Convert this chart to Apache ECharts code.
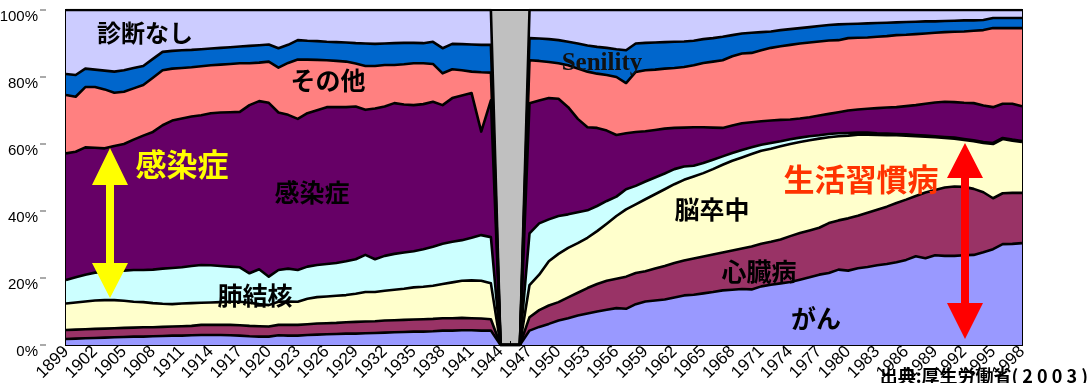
<!DOCTYPE html>
<html>
<head>
<meta charset="utf-8">
<script src="https://cdn.jsdelivr.net/npm/echarts@6/dist/echarts.min.js"></script>
<style>
  html, body { margin: 0; padding: 0; background: #ffffff; }
  #chart { width: 1089px; height: 383px; }
</style>
</head>
<body>
<div id="chart"></div>
<script>
// Years on the horizontal axis (1899 - 1998)
const years = [];
for (let y = 1899; y <= 1998; y++) years.push(String(y));

// Cumulative share of deaths (%) at the upper edge of each cause band.
// 1899-1943, then the 1944-1946 gap (no data), then 1947-1998.
const topCancer = [
  1.8,1.9,2.0,2.1,2.2,2.3,2.4,2.5,2.5,2.6,
  2.7,2.8,2.8,2.9,3.0,3.0,3.0,2.9,2.8,2.6,
  2.5,2.5,2.9,2.8,2.8,3.0,3.1,3.2,3.3,3.4,
  3.4,3.5,3.6,3.7,3.8,3.9,4.0,4.0,4.1,4.3,
  4.3,4.4,4.4,4.3,4.3,
  0,0,0,
  4.3,5.4,6.3,7.3,8.0,8.8,9.4,10.0,10.5,11.0,
  10.8,12.2,13.0,13.3,13.6,14.2,14.8,15.0,15.4,15.8,
  16.3,16.5,16.7,16.6,17.5,18.0,18.4,18.8,19.5,20.2,
  21.0,21.5,22.5,22.2,22.9,23.3,23.8,24.2,24.7,25.4,
  26.5,25.9,26.8,26.6,26.6,26.8,26.9,27.7,28.6,30.1,
  30.2,30.4
];
const topHeart = [
  4.5,4.6,4.7,4.8,4.9,5.0,5.1,5.2,5.3,5.3,
  5.4,5.5,5.6,5.7,6.0,6.0,6.0,6.0,5.9,5.7,
  5.6,5.5,6.0,6.0,6.0,6.2,6.4,6.5,6.6,6.8,
  6.9,7.0,7.1,7.3,7.4,7.5,7.6,7.7,7.8,8.0,
  8.0,8.1,8.0,7.9,7.7,
  0,0,0,
  8.3,10.4,11.8,12.8,14.2,15.6,17.0,18.2,19.2,19.8,
  20.4,21.5,22.0,22.8,23.6,24.5,25.2,25.8,26.4,27.0,
  27.6,28.2,28.8,29.4,30.2,30.8,31.5,32.5,33.4,34.2,
  35.0,36.4,37.2,37.8,38.6,39.5,40.4,41.3,42.4,43.4,
  44.5,45.5,46.3,47.0,47.3,47.2,46.6,45.6,43.8,45.3,
  45.4,45.4
];
const topStroke = [
  12.4,12.7,13.0,13.3,13.4,13.4,13.2,12.9,12.8,12.5,
  12.3,12.2,12.4,12.5,12.6,12.7,12.8,12.9,12.9,12.6,
  12.2,11.9,12.9,13.0,12.9,13.8,14.3,14.5,14.7,14.9,
  15.3,15.8,15.8,16.2,16.5,16.8,17.2,17.4,17.7,18.2,
  18.7,19.2,19.3,19.2,18.4,
  0,0,0,
  17.9,21.0,25.0,27.2,29.0,30.4,32.0,34.0,36.2,38.5,
  40.5,42.0,43.5,45.0,46.5,48.0,49.3,50.3,51.3,52.5,
  53.8,55.0,56.0,57.0,58.0,58.6,59.3,60.0,60.6,61.1,
  61.6,62.0,62.3,62.5,62.8,62.8,62.7,62.6,62.6,62.5,
  62.3,62.2,62.0,61.8,61.6,61.2,60.8,60.3,60.0,61.5,
  61.0,60.6
];
const topTuberculosis = [
  19.4,20.2,21.0,21.6,21.8,22.0,22.2,22.4,22.4,22.5,
  22.8,23.0,23.2,23.6,23.9,23.8,23.6,23.4,23.2,21.4,
  22.6,20.4,22.4,22.8,22.4,23.4,23.9,24.2,24.5,25.0,
  25.6,26.9,25.6,26.6,27.2,27.6,28.0,28.6,29.3,30.2,
  30.8,31.3,32.0,32.8,32.2,
  0,0,0,
  33.3,36.3,37.5,38.5,39.0,39.6,40.2,41.5,43.0,44.3,
  46.5,47.5,48.8,50.0,51.2,52.5,53.3,53.5,54.3,55.3,
  56.3,57.3,58.2,59.0,59.8,60.3,60.8,61.4,61.9,62.3,
  62.6,63.0,63.2,63.3,63.4,63.4,63.2,63.1,63.0,62.9,
  62.7,62.5,62.3,62.1,61.9,61.5,61.1,60.6,60.3,61.8,
  61.3,60.9
];
const topInfection = [
  57.2,57.7,59.0,58.9,58.7,59.4,60.0,61.3,62.5,63.6,
  65.6,67.0,67.6,68.2,68.6,69.2,69.4,69.5,69.6,71.6,
  72.8,72.3,69.4,68.7,67.5,69.2,70.1,71.0,71.0,71.0,
  71.2,70.2,70.6,71.2,72.2,71.8,71.6,71.9,72.6,71.6,
  73.7,74.5,75.2,63.7,73.0,
  0,0,0,
  72.2,73.0,73.7,73.5,71.0,67.5,65.0,64.8,64.0,62.7,
  63.2,63.6,63.8,64.2,64.6,64.8,64.9,65.0,65.0,64.9,
  64.8,65.5,66.2,66.5,66.8,67.0,67.2,67.3,67.6,68.0,
  68.5,69.0,69.5,70.0,70.3,70.5,70.7,70.9,71.0,71.3,
  71.6,72.0,72.4,72.6,72.5,72.3,72.2,71.5,71.0,72.0,
  72.0,71.3
];
const topOther = [
  74.6,74.1,77.0,77.0,76.3,75.3,75.6,76.6,77.6,79.8,
  82.0,82.5,82.7,82.9,83.2,83.5,83.7,83.9,84.1,84.1,
  84.3,84.6,82.8,84.2,85.2,85.2,85.1,85.0,84.8,84.6,
  84.0,83.3,83.3,83.6,83.6,83.8,84.1,84.1,83.9,81.1,
  82.3,82.0,81.6,81.4,81.3,
  0,0,0,
  85.0,84.8,84.5,84.1,83.5,82.5,81.6,81.0,80.6,80.0,
  78.2,81.5,82.0,82.2,82.5,82.7,83.0,83.5,84.2,84.6,
  85.0,86.2,87.0,87.2,88.0,88.7,89.2,89.6,90.0,90.3,
  90.6,90.9,91.0,91.6,91.7,91.8,92.0,92.2,92.5,92.6,
  92.8,93.0,93.2,93.4,93.5,93.6,93.8,94.0,94.6,94.6,
  94.6,94.6
];
const topSenility = [
  80.9,80.6,82.5,82.2,81.9,81.6,82.0,82.7,83.3,85.4,
  87.5,87.8,88.0,88.1,88.3,88.5,88.7,88.9,89.1,89.3,
  89.5,89.7,88.6,89.6,91.0,90.8,90.7,90.5,90.4,90.3,
  90.1,90.0,89.9,90.0,90.1,90.2,90.2,90.1,90.5,88.6,
  89.9,89.8,89.7,89.6,89.6,
  0,0,0,
  91.6,91.5,91.3,91.0,90.5,90.0,89.4,89.0,88.7,88.3,
  88.0,90.0,90.2,90.3,90.4,90.5,90.6,90.8,91.3,91.6,
  92.0,92.5,93.0,93.2,93.4,93.6,94.0,94.3,94.6,94.9,
  95.2,95.5,95.7,95.8,95.9,96.0,96.1,96.2,96.3,96.4,
  96.5,96.6,96.6,96.7,96.8,96.9,96.9,97.0,97.6,97.6,
  97.6,97.6
];
const topUndiagnosed = [
  100,100,100,100,100,100,100,100,100,100,
  100,100,100,100,100,100,100,100,100,100,
  100,100,100,100,100,100,100,100,100,100,
  100,100,100,100,100,100,100,100,100,100,
  100,100,100,100,100,
  0,0,0,
  100,100,100,100,100,100,100,100,100,100,
  100,100,100,100,100,100,100,100,100,100,
  100,100,100,100,100,100,100,100,100,100,
  100,100,100,100,100,100,100,100,100,100,
  100,100,100,100,100,100,100,100,100,100,
  100,100
];

// Y tick values
const yTicks = [0, 20, 40, 60, 80, 100];

// Bands drawn back to front: each area fills from 0% up to its own top edge
const bands = [
  { name: '診断なし', color: '#CCCCFF', data: topUndiagnosed },
  { name: 'Senility', color: '#0066CC', data: topSenility },
  { name: 'その他',   color: '#FF8080', data: topOther },
  { name: '感染症',   color: '#660066', data: topInfection },
  { name: '肺結核',   color: '#CCFFFF', data: topTuberculosis },
  { name: '脳卒中',   color: '#FFFFCC', data: topStroke },
  { name: '心臓病',   color: '#993366', data: topHeart },
  { name: 'がん',     color: '#9999FF', data: topCancer }
];

const JP = '"Noto Sans CJK JP", "Noto Sans", sans-serif';
const LATIN = '"Liberation Sans", Arial, sans-serif';

function label(text, x, y, size, color, family) {
  return {
    type: 'text', x: x, y: y, z: 100,
    style: {
      text: text, fill: color,
      font: 'bold ' + size + 'px ' + (family || JP),
      align: 'center', verticalAlign: 'middle',
      textAlign: 'center', textVerticalAlign: 'middle'
    }
  };
}

function doubleArrow(cx, tipTop, baseTop, baseBot, tipBot, half, shaft, color) {
  return {
    type: 'polygon', z: 100,
    shape: { points: [
      [cx, tipTop], [cx + half, baseTop], [cx + shaft, baseTop], [cx + shaft, baseBot],
      [cx + half, baseBot], [cx, tipBot], [cx - half, baseBot], [cx - shaft, baseBot],
      [cx - shaft, baseTop], [cx - half, baseTop]
    ] },
    style: { fill: color, stroke: null }
  };
}

const yBase = {
  type: 'value', min: yTicks[0], max: yTicks[yTicks.length - 1], interval: 20,
  position: 'left',
  axisLine: { show: false }, axisTick: { show: false }, splitLine: { show: false }
};

const chart = echarts.init(document.getElementById('chart'), null, { renderer: 'canvas' });

chart.setOption({
  animation: false,
  backgroundColor: '#ffffff',
  grid: {
    left: 66, right: 67, top: 10, bottom: 38,
    show: true, backgroundColor: '#C0C0C0',
    borderColor: '#000000', borderWidth: 2,
    containLabel: false, outerBoundsMode: 'none'
  },
  xAxis: {
    type: 'category', data: years, boundaryGap: false,
    axisLine: { show: true, lineStyle: { color: '#000', width: 2 } },
    axisTick: { show: true, inside: true, length: 4, interval: 0, lineStyle: { color: '#000', width: 1 } },
    axisLabel: {
      interval: 2, rotate: 45, margin: 4,
      color: '#000', fontSize: 17, fontFamily: LATIN
    },
    splitLine: { show: false }
  },
  yAxis: [
    // percentage labels; the empty first line drops each one just below its tick
    Object.assign({}, yBase, {
      axisLabel: {
        margin: 28, color: '#000', fontSize: 15, fontFamily: LATIN, lineHeight: 14,
        formatter: function (v) { return ' \n' + v + '%'; }
      }
    }),
    // short detached tick dashes
    Object.assign({}, yBase, {
      axisLabel: {
        margin: 20,
        formatter: function () { return '{t| }'; },
        rich: { t: { width: 6, height: 1, backgroundColor: '#555' } }
      }
    })
  ],
  series: bands.map(function (b) {
    return {
      type: 'line', name: b.name, data: b.data, yAxisIndex: 0,
      symbol: 'none', showSymbol: false, smooth: false,
      lineStyle: { color: '#000', width: 2.6, join: 'round' },
      itemStyle: { color: b.color },
      areaStyle: { color: b.color, opacity: 1 },
      emphasis: { disabled: true },
      silent: true
    };
  }),
  graphic: [
    label('診断なし', 145, 33, 24, '#000'),
    label('その他', 328, 80, 25, '#000'),
    label('Senility', 602, 64, 25, '#111', '"Liberation Serif", "Times New Roman", serif'),
    label('感染症', 182, 164, 31, '#FFFF00'),
    label('感染症', 312, 192, 25, '#000'),
    label('肺結核', 255, 295, 25, '#000'),
    label('脳卒中', 712, 209, 25, '#000'),
    label('心臓病', 759, 271, 25, '#000'),
    label('がん', 816, 318, 25, '#000'),
    label('生活習慣病', 861, 179, 31, '#FF3300'),
    doubleArrow(110, 148, 185, 263, 298, 18, 4, '#FFFF00'),
    doubleArrow(965, 143, 178, 303, 339, 18, 4, '#FF0000'),
    {
      type: 'text', x: 1088, y: 376, z: 100,
      style: {
        text: '出典:厚生労働省( 2 0 0 3 )', fill: '#000',
        font: 'bold 18px ' + JP,
        align: 'right', verticalAlign: 'middle',
        textAlign: 'right', textVerticalAlign: 'middle'
      }
    }
  ]
});
</script>
</body>
</html>
